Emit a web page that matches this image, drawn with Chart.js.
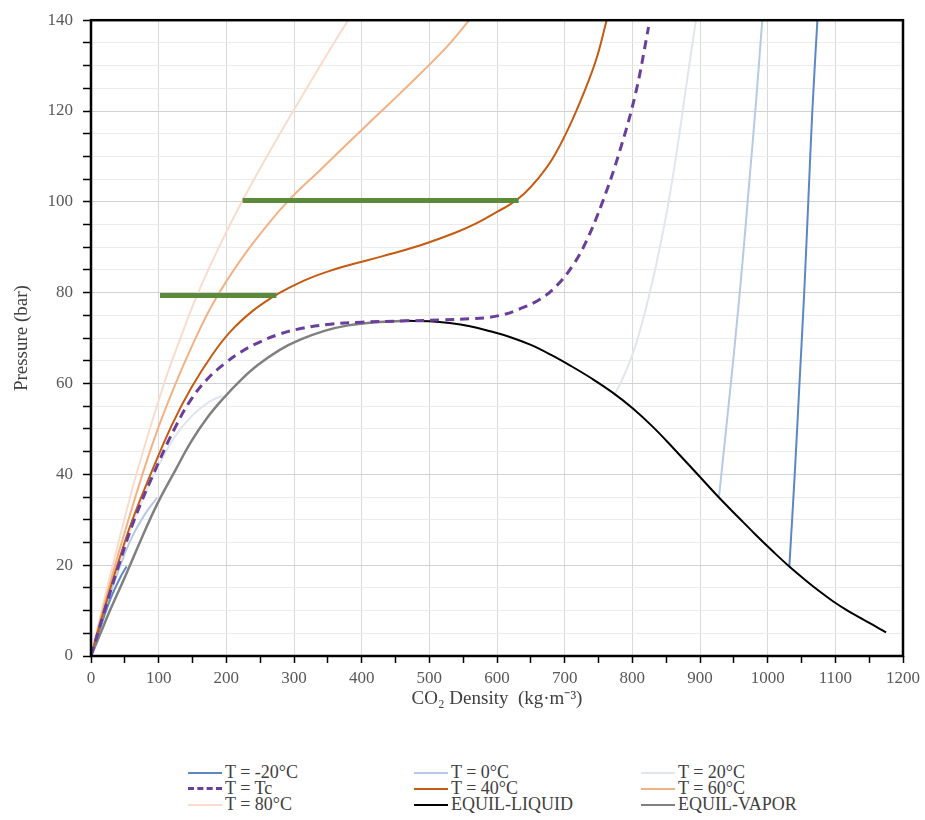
<!DOCTYPE html>
<html>
<head>
<meta charset="utf-8">
<script src="https://cdn.jsdelivr.net/npm/chart.js@4.4.1/dist/chart.umd.min.js"></script>
<style>
  body { margin: 0; background: #fff; }
  #wrap { position: relative; width: 925px; height: 820px; }
  #box { position: absolute; left: 0; top: 0; width: 925px; height: 740px; }
  #legend { position: absolute; left: 0; top: 764px; width: 925px; font-family: "Liberation Serif", serif; font-size: 18px; color: #404040; }
  .item { position: absolute; height: 16px; line-height: 16px; white-space: nowrap; }
  .item span.ln { display: inline-block; width: 34px; height: 0; border-top: 2px solid; vertical-align: middle; margin-right: 3px; position: relative; top: -1px; }
</style>
</head>
<body>
<div id="wrap">
  <div id="box"><canvas id="chart"></canvas></div>
  <div id="legend"></div>
</div>
<script>
// saturation dome
var vaporD = [0, 14, 28, 49, 75, 98, 125, 148, 172, 196, 221, 246, 279, 310, 345, 380, 420, 467];
var vaporP = [0, 5, 10, 17, 26, 33.5, 41, 47.2, 52.5, 56.8, 60.7, 64, 67.4, 69.7, 71.6, 72.8, 73.5, 73.8];
var liquidD = [467, 500, 530, 560, 590, 620, 650, 680, 710, 740, 770, 800, 830, 861, 897, 928, 957, 983, 1008, 1032, 1055, 1076, 1097, 1118, 1137, 1155, 1175];
var liquidP = [73.8, 73.7, 73.3, 72.6, 71.5, 70.2, 68.5, 66.3, 63.8, 61.1, 58.1, 54.6, 50.5, 45.7, 39.9, 34.9, 30.5, 26.6, 23, 19.7, 16.8, 14.3, 12, 10, 8.4, 6.9, 5.2];

// isotherms below Tc (vapour branch, then liquid branch)
var m20VapD = [0, 15, 30, 45, 52.6];
var m20VapP = [0, 6.8, 13, 17.8, 19.7];
var m20LiqD = [1032, 1040, 1047, 1054, 1060, 1066, 1073.5];
var m20LiqP = [19.7, 40, 60, 80, 100, 120, 140];

var t0VapD = [0, 20, 40, 60, 80, 97.6];
var t0VapP = [0, 9.8, 18.6, 26, 31.3, 34.85];
var t0LiqD = [928, 940, 952, 963, 972, 982, 992];
var t0LiqP = [34.9, 52, 69.5, 87, 103, 120.5, 140];

var t20VapD = [0, 25, 50, 75, 100, 125, 150, 175, 194];
var t20VapP = [0, 12.5, 24.5, 34, 42, 48.5, 53, 56, 57.3];
var t20LiqD = [773, 790, 805, 820, 835, 850, 862, 873, 884, 894];
var t20LiqP = [57.3, 62.5, 68.5, 76.5, 86, 97, 107.5, 118.5, 130, 140];

// critical isotherm and above
var tcD = [0, 20, 40, 64, 98, 125, 148, 172, 196, 221, 246, 279, 310, 350, 400, 467, 520, 560, 584, 610, 633, 663, 688, 712, 731, 756, 781, 805, 824];
var tcP = [0, 10, 19.5, 30, 42, 50.5, 56.5, 61, 64.2, 66.9, 68.9, 70.9, 72.1, 73, 73.5, 73.8, 74, 74.25, 74.5, 75.2, 76.4, 78.5, 81.5, 86, 91, 100, 111, 124, 138.5];

var t40D = [0, 20, 39, 60, 88, 120, 148, 180, 207, 239, 270, 289, 320, 353, 387, 430, 486, 540, 570, 600, 620, 640, 660, 682, 705, 731, 748, 762];
var t40P = [0, 10.5, 20, 29.5, 40, 51, 59, 66.5, 71.6, 76, 79.2, 80.8, 83, 84.8, 86.3, 88, 90.4, 93.3, 95.3, 97.8, 99.5, 101.8, 105, 109.5, 116, 125, 132, 140];

var t60D = [0, 20, 40, 76, 100, 125, 150, 175, 200, 240, 290, 340, 390, 440, 490, 525, 559];
var t60P = [0, 11.5, 22.3, 40, 50.5, 60, 68.5, 76.2, 82.5, 91, 100, 107.2, 114.4, 121.5, 128.7, 134, 140];

var t80D = [0, 20, 40, 67, 108, 133, 158, 190, 220, 260, 300, 340, 382];
var t80P = [0, 12.7, 24.6, 40, 60, 70.3, 79.9, 90.3, 99.2, 110, 120.3, 130.3, 140.5];

// horizontal green bands
var band1D = [102, 274];
var band1P = [79.4, 79.4];
var band2D = [224, 632];
var band2P = [100.3, 100.3];

var legendNames = ["T = -20\u00b0C", "T = 0\u00b0C", "T = 20\u00b0C", "T = Tc", "T = 40\u00b0C", "T = 60\u00b0C", "T = 80\u00b0C", "EQUIL-LIQUID", "EQUIL-VAPOR"];
var legendColors = ["#5b87c6", "#b7c9e4", "#dfe6f0", "#6a3f9c", "#c55a11", "#f4b183", "#f9dccb", "#000000", "#808080"];

function pts(xs, ys) {
  var out = [];
  for (var i = 0; i < xs.length; i++) out.push({x: xs[i], y: ys[i]});
  return out;
}
function twoBranch(vx, vy, lx, ly) {
  var a = pts(vx, vy);
  a.push({x: (vx[vx.length - 1] + lx[0]) / 2, y: null});
  return a.concat(pts(lx, ly));
}
function line(label, data, color, width, extra) {
  var d = {label: label, data: data, borderColor: color, backgroundColor: color, borderWidth: width,
    showLine: true, pointRadius: 0, pointHoverRadius: 0, fill: false, tension: 0.4, spanGaps: false};
  for (var k in extra) d[k] = extra[k];
  return d;
}

var green = "#5b8a3a";
var datasets = [
  line("band80", pts(band1D, band1P), green, 5, {tension: 0}),
  line("band100", pts(band2D, band2P), green, 5, {tension: 0}),
  line(legendNames[3], pts(tcD, tcP), legendColors[3], 3, {borderDash: [9, 6]}),
  line(legendNames[7], pts(liquidD, liquidP), legendColors[7], 2),
  line(legendNames[8], pts(vaporD, vaporP), legendColors[8], 2.5),
  line(legendNames[4], pts(t40D, t40P), legendColors[4], 2),
  line(legendNames[0], twoBranch(m20VapD, m20VapP, m20LiqD, m20LiqP), legendColors[0], 2),
  line(legendNames[1], twoBranch(t0VapD, t0VapP, t0LiqD, t0LiqP), legendColors[1], 2),
  line(legendNames[2], twoBranch(t20VapD, t20VapP, t20LiqD, t20LiqP), legendColors[2], 2),
  line(legendNames[5], pts(t60D, t60P), legendColors[5], 2),
  line(legendNames[6], pts(t80D, t80P), legendColors[6], 2)
];

var serif = "'Liberation Serif', 'Times New Roman', serif";

var frame = {
  id: 'frame',
  afterDraw: function (chart) {
    var a = chart.chartArea, c = chart.ctx;
    c.save();
    c.strokeStyle = '#000';
    c.lineWidth = 2.5;
    c.strokeRect(a.left, a.top, a.right - a.left, a.bottom - a.top);
    c.restore();
  }
};

var ctx = document.getElementById('chart').getContext('2d');
var myChart = new Chart(ctx, {
  type: 'scatter',
  data: {datasets: datasets},
  options: {
    responsive: true,
    maintainAspectRatio: false,
    animation: false,
    layout: {padding: {top: 19, right: 21, left: 0, bottom: 0}},
    plugins: {legend: {display: false}, tooltip: {enabled: false}},
    scales: {
      x: {
        type: 'linear', min: 0, max: 1200,
        afterFit: function (s) { s.height = 84; },
        border: {display: false},
        grid: {
          color: function (c) { return c.tick && c.tick.value % 100 === 0 ? '#d9d9d9' : 'rgba(0,0,0,0)'; },
          tickColor: '#000', tickLength: 7, tickWidth: 1.5, lineWidth: 1
        },
        ticks: {
          stepSize: 50, autoSkip: false, maxRotation: 0, padding: 5,
          color: '#595959', font: {family: serif, size: 17},
          callback: function (v) { return v % 100 === 0 ? v : ''; }
        },
        title: {display: true, text: 'CO\u2082 Density  (kg\u00b7m\u207b\u00b3)', color: '#404040',
          font: {family: serif, size: 19}, padding: {top: 0, bottom: 30}}
      },
      y: {
        type: 'linear', min: 0, max: 140,
        afterFit: function (s) { s.width = 91; },
        border: {display: false},
        grid: {
          color: function (c) { return c.tick && c.tick.value % 20 === 0 ? '#d2d2d2' : '#ebebeb'; },
          tickColor: '#000', tickLength: 8, tickWidth: 1.5, lineWidth: 1
        },
        ticks: {
          stepSize: 5, autoSkip: false, padding: 10,
          color: '#595959', font: {family: serif, size: 17},
          callback: function (v) { return v % 20 === 0 ? v : ''; }
        },
        title: {display: true, text: 'Pressure (bar)', color: '#404040',
          font: {family: serif, size: 19}, padding: {top: 11, bottom: 0}}
      }
    }
  },
  plugins: [frame]
});

// legend in three columns
var colX = [188, 414, 641];
var lg = document.getElementById('legend');
legendNames.forEach(function (name, n) {
  var el = document.createElement('div');
  el.className = 'item';
  el.style.left = colX[n % 3] + 'px';
  el.style.top = (Math.floor(n / 3) * 16) + 'px';
  var ln = document.createElement('span');
  ln.className = 'ln';
  ln.style.borderTopColor = legendColors[n];
  if (n === 3) { ln.style.borderTopStyle = 'dashed'; ln.style.borderTopWidth = '3px'; }
  el.appendChild(ln);
  el.appendChild(document.createTextNode(name));
  lg.appendChild(el);
});
</script>
</body>
</html>
